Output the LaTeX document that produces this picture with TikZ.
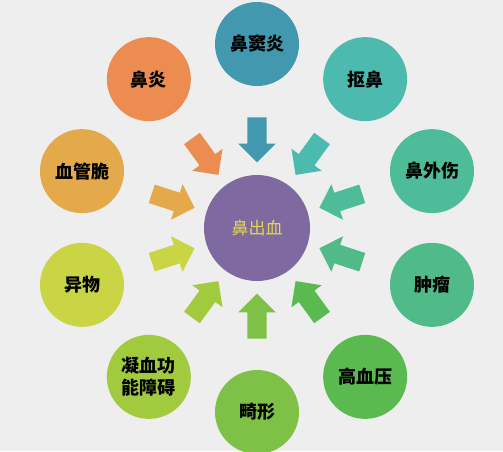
\documentclass[tikz,border=0pt]{standalone}
\usepackage{fontspec}
\newfontfamily\cjk{Noto Sans CJK SC}
\usetikzlibrary{calc,shapes.arrows}

\definecolor{paper}{HTML}{EEEEEE}
\definecolor{bleedfill}{HTML}{7F69A1}
\definecolor{bleedtext}{HTML}{E6D84C}
\definecolor{col0}{HTML}{4298AE}
\definecolor{col1}{HTML}{4DBAB0}
\definecolor{col2}{HTML}{4FBC99}
\definecolor{col3}{HTML}{50BA88}
\definecolor{col4}{HTML}{5AB94F}
\definecolor{col5}{HTML}{7DC146}
\definecolor{col6}{HTML}{A2CA3E}
\definecolor{col7}{HTML}{CAD546}
\definecolor{col8}{HTML}{E3A94B}
\definecolor{col9}{HTML}{EC8C50}

\begin{document}
\begin{tikzpicture}[x=1pt, y=-1pt,
    cause/.style={circle, minimum size=84pt, inner sep=0pt, align=center,
        font=\cjk\bfseries\fontsize{18}{22}\selectfont},
    push/.style={single arrow, minimum height=45pt, inner xsep=0pt, inner ysep=9.5pt,
        single arrow head extend=9pt, text height=0pt, text depth=0pt}]
            \fill[paper] (0,0) rectangle (503,451);
            \useasboundingbox (0,0) rectangle (503,451);

            \node[circle, fill=bleedfill, minimum size=106pt, text=bleedtext,
                font=\cjk\fontsize{17}{20}\selectfont] (bleed) at (257,228) {鼻出血};

            \foreach \i/\txt in {0/鼻窦炎, 1/抠鼻, 2/鼻外伤, 3/肿瘤, 4/高血压,
                    5/畸形, 6/{凝血功\\能障碍}, 7/异物, 8/血管脆, 9/鼻炎} {
                \pgfmathsetmacro{\ang}{90 - 36*\i}
                \node[cause, fill=col\i] (cause\i)
                    at ({257 + 184*cos(\ang)}, {228 - 184*sin(\ang)}) {\txt};
                \pgfmathsetmacro{\turn}{\ang + 180}
                \node[push, fill=col\i, rotate=\turn] (push\i)
                    at ($(bleed)!93pt!(cause\i)$) {};
            }
        \end{tikzpicture}
\end{document}
